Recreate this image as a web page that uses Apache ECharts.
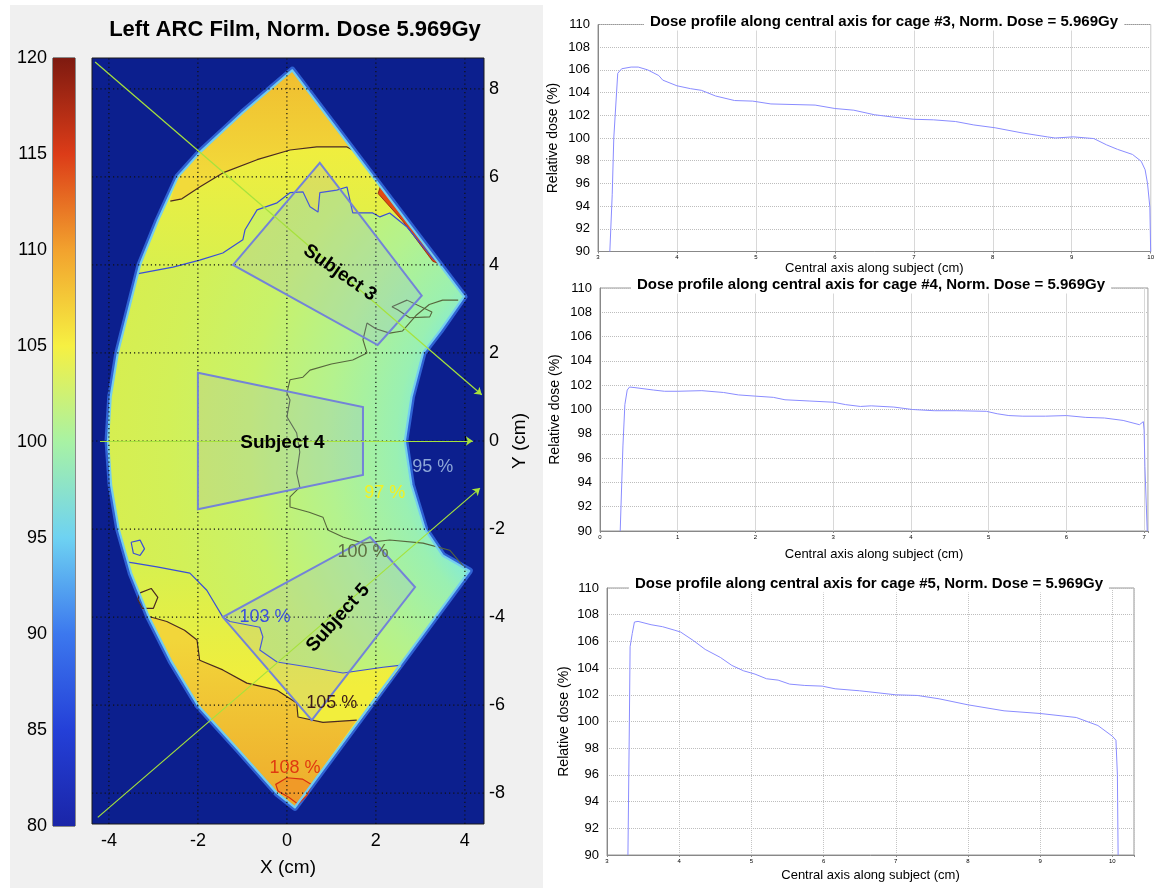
<!DOCTYPE html>
<html>
<head>
<meta charset="utf-8">
<script src="https://cdn.jsdelivr.net/npm/echarts@6/dist/echarts.min.js"></script>
<style>
  html, body { margin: 0; padding: 0; background: #fff; }
  #main { width: 1157px; height: 888px; }
</style>
</head>
<body>
<div id="main"></div>
<script>
// ---------- profile data ----------
const cage3Dist = [3.15, 3.18, 3.2, 3.25, 3.3, 3.42, 3.51, 3.63, 3.77, 3.82, 4.0, 4.17, 4.31, 4.49, 4.73, 4.96, 5.19, 5.47, 5.75, 6.0, 6.24, 6.5, 6.73, 7.0, 7.25, 7.53, 7.76, 8.03, 8.37, 8.69, 8.79, 9.02, 9.28, 9.44, 9.58, 9.77, 9.88, 9.93, 9.96, 9.99, 10.0]
const cage3Dose = [90, 95, 100, 105.7, 106.1, 106.25, 106.25, 106.0, 105.5, 105.1, 104.6, 104.35, 104.2, 103.7, 103.3, 103.25, 103.0, 102.95, 102.9, 102.6, 102.45, 102.05, 101.85, 101.65, 101.6, 101.45, 101.15, 100.9, 100.45, 100.1, 100.0, 100.1, 99.95, 99.4, 99.0, 98.55, 97.95, 97.2, 96.0, 93.9, 90]

const cage4Dist = [0.26, 0.295, 0.32, 0.35, 0.38, 0.45, 0.69, 0.83, 1.0, 1.31, 1.59, 1.78, 2.0, 2.23, 2.38, 2.69, 3.0, 3.16, 3.35, 3.49, 3.78, 4.02, 4.3, 4.59, 4.97, 5.11, 5.26, 5.44, 5.73, 6.0, 6.25, 6.49, 6.73, 6.94, 6.99, 7.0, 7.01, 7.04]
const cage4Dose = [90, 97, 100.4, 101.6, 101.85, 101.8, 101.6, 101.5, 101.5, 101.55, 101.4, 101.2, 101.1, 101.0, 100.8, 100.7, 100.6, 100.4, 100.25, 100.3, 100.2, 100.0, 99.9, 99.9, 99.85, 99.65, 99.5, 99.45, 99.45, 99.5, 99.35, 99.3, 99.1, 98.75, 99.0, 98.3, 95.3, 90]

const cage5Dist = [3.29, 3.31, 3.32, 3.35, 3.38, 3.43, 3.61, 3.77, 3.93, 4.02, 4.2, 4.36, 4.57, 4.73, 4.89, 5.05, 5.21, 5.37, 5.53, 5.74, 5.98, 6.16, 6.5, 7.0, 7.3, 7.6, 8.0, 8.5, 9.0, 9.5, 9.8, 10.0, 10.05, 10.07, 10.08]
const cage5Dose = [90, 100, 105.6, 106.6, 107.45, 107.5, 107.25, 107.1, 106.85, 106.7, 106.05, 105.4, 104.8, 104.2, 103.8, 103.55, 103.2, 103.1, 102.8, 102.7, 102.65, 102.45, 102.3, 102.0, 101.95, 101.7, 101.25, 100.8, 100.6, 100.3, 99.7, 98.9, 98.6, 96.0, 90]

const profileYTicks = [90, 92, 94, 96, 98, 100, 102, 104, 106, 108, 110]

// ---------- film map (cm) ----------
const mapXTicks = [-4, -2, 0, 2, 4]
const mapYTicks = [-8, -6, -4, -2, 0, 2, 4, 6, 8]
const colorbarValues = [80, 85, 90, 95, 100, 105, 110, 115, 120]
const colorbarColors = ['#1a25a8', '#2440d8', '#3c78ee', '#6ed2f2', '#a8f2a4', '#f6f042', '#f2a22e', '#dc3c18', '#7e1a10']

// outline of the exposed film: tip, right edge, inner arc, bottom tip, outer arc
const filmOutline = [[0.12, 8.42], [3.98, 3.28], [3.44, 2.5], [3.06, 2.0], [2.8, 1.0], [2.65, 0], [2.8, -1.0], [3.1, -2.0], [3.5, -2.6], [4.1, -2.95],
  [0.18, -8.32], [-0.22, -8.0], [-1.1, -7.0], [-2.0, -6.0], [-2.6, -5.0], [-3.1, -4.0], [-3.5, -3.0], [-3.78, -2.0], [-3.95, -1.0], [-4.02, 0],
  [-3.96, 1.0], [-3.8, 2.0], [-3.55, 3.0], [-3.3, 4.0], [-2.9, 5.0], [-2.45, 6.0], [-1.96, 6.55], [-1.0, 7.45]]

// isodose lines
const contour105Top = [[-2.62, 5.45], [-2.36, 5.5], [-1.96, 5.77], [-1.44, 6.09], [-0.67, 6.39], [0.07, 6.61], [0.67, 6.68], [1.35, 6.68], [1.5, 6.6]]
const contour105Bottom = [[-3.12, -3.98], [-2.7, -4.1], [-2.3, -4.3], [-2.02, -4.52], [-1.96, -4.98], [-1.44, -5.2], [-0.9, -5.5], [-0.22, -5.66], [0.22, -5.95], [0.25, -6.27], [0.81, -6.39], [1.57, -6.34]]
const contour105Loop = [[-3.3, -3.45], [-3.05, -3.35], [-2.9, -3.55], [-3.0, -3.8], [-3.25, -3.8], [-3.35, -3.6], [-3.3, -3.45]]
const contour103Top = [[3.32, 4.11], [2.7, 4.86], [2.31, 5.18], [2.09, 5.09], [1.93, 5.18], [1.48, 5.18], [1.35, 5.77], [1.12, 5.7], [0.74, 5.64], [0.7, 5.2], [0.52, 5.32], [0.36, 5.66], [0.07, 5.64], [-0.22, 5.41], [-0.67, 5.25], [-0.94, 4.8], [-0.99, 4.57], [-1.44, 4.27], [-1.96, 4.11], [-2.56, 3.95], [-3.34, 3.8]]
const contour103Bottom = [[-3.58, -2.75], [-3.46, -2.77], [-2.92, -2.86], [-2.18, -3.0], [-1.8, -3.39], [-1.44, -4.0], [-1.28, -4.1], [-0.61, -4.23], [-0.54, -4.45], [-0.61, -4.75], [-0.22, -5.02], [0.52, -5.14], [1.26, -5.27], [2.16, -5.14], [2.58, -5.09]]
const contour103Loop = [[-3.5, -2.3], [-3.3, -2.25], [-3.2, -2.45], [-3.3, -2.6], [-3.45, -2.55], [-3.5, -2.3]]
const contour100 = [[3.85, 3.2], [3.5, 3.2], [3.2, 3.1], [2.9, 2.85], [2.6, 2.5], [2.31, 2.45], [2.0, 2.55], [1.8, 2.68], [1.71, 2.3], [1.8, 2.0], [1.48, 1.84], [1.0, 1.75], [0.52, 1.61], [0.36, 1.45], [0.07, 1.39], [0.0, 1.09], [0.07, 0.93], [0.0, 0.55], [0.22, 0.18], [0.29, -0.25], [0.22, -0.73], [0.29, -1.05], [0.07, -1.27], [0.07, -1.5], [0.5, -1.62], [0.81, -1.73], [0.92, -2.02], [1.26, -2.18], [1.71, -2.32], [2.31, -2.25], [3.06, -2.32], [3.66, -2.48], [4.04, -2.93]]
const contour100Loop = [[2.36, 3.05], [2.7, 3.2], [3.26, 2.93], [3.21, 2.82], [2.76, 2.8], [2.49, 2.98], [2.36, 3.05]]
const contour108Loop = [[-0.25, -7.8], [0.0, -7.65], [0.35, -7.68], [0.55, -7.8], [0.45, -8.05], [0.25, -8.25], [0.05, -8.1], [-0.2, -7.95], [-0.25, -7.8]]
const hotEdge = [[2.1, 5.78], [3.44, 4.02], [3.28, 4.08], [2.6, 5.0], [2.05, 5.62]]

// subject outlines and beam axes
const subject3 = [[0.74, 6.32], [3.03, 3.3], [2.04, 2.18], [-1.21, 4.0]]
const subject4 = [[-2.0, 1.55], [1.71, 0.77], [1.71, -0.77], [-2.0, -1.55]]
const subject5 = [[1.87, -2.18], [2.88, -3.32], [0.56, -6.34], [-1.44, -4.0]]
const beamLines = [[[-4.31, 8.61], [4.38, 1.05]], [[-4.2, 0], [4.18, 0]], [[-4.25, -8.55], [4.34, -1.07]]]

const FONT = '"Liberation Sans", Arial, Helvetica, sans-serif'
const G = echarts.graphic

const mapLabels = [
  { text: 'Subject 3', at: [1.19, 3.82], rot: -35, color: '#000', size: 19, bold: true },
  { text: 'Subject 4', at: [-0.1, -0.05], rot: 0, color: '#000', size: 19, bold: true },
  { text: 'Subject 5', at: [1.15, -4.02], rot: 48, color: '#000', size: 19, bold: true },
  { text: '95 %', at: [3.28, -0.6], rot: 0, color: '#8ea8d8', size: 18 },
  { text: '97 %', at: [2.2, -1.18], rot: 0, color: '#f4f020', size: 18 },
  { text: '100 %', at: [1.71, -2.52], rot: 0, color: '#5f6f40', size: 18 },
  { text: '103 %', at: [-0.49, -4.0], rot: 0, color: '#3a4fe0', size: 18 },
  { text: '105 %', at: [1.01, -5.95], rot: 0, color: '#3a1a1a', size: 18 },
  { text: '108 %', at: [0.18, -7.43], rot: 0, color: '#e03a10', size: 18 }
]

const zip = (xs, ys) => xs.map((x, i) => [x, ys[i]])

// film regions built from the outline and the isodose lines
const region103Top = contour103Top.concat(filmOutline.slice(23), [filmOutline[0]])
const region103Bottom = contour103Bottom.concat(filmOutline.slice(10, 17))
const region105Top = contour105Top.concat([filmOutline[0]], filmOutline.slice(25).reverse())
const region105Bottom = contour105Bottom.concat(filmOutline.slice(10, 16))

function polygon(name, pts, z, styleFn) {
  return {
    name, type: 'custom', xAxisIndex: 0, yAxisIndex: 0, z, silent: true, clip: true,
    data: [[pts[0][0], pts[0][1]]],
    renderItem(params, api) {
      return { type: 'polygon', shape: { points: pts.map(p => api.coord(p)) }, style: styleFn(api) }
    }
  }
}
function vGrad(api, y1, y2, c1, c2) {
  const a = api.coord([0, y1])
  const b = api.coord([0, y2])
  return new G.LinearGradient(0, a[1], 0, b[1], [{ offset: 0, color: c1 }, { offset: 1, color: c2 }], true)
}
function contour(name, pts, color, width, z) {
  return {
    name, type: 'line', xAxisIndex: 0, yAxisIndex: 0, z, silent: true, data: pts,
    showSymbol: false, symbol: 'none', clip: true, lineStyle: { color, width }
  }
}
function profileSeries(gi, xs, ys) {
  return {
    type: 'line', xAxisIndex: gi, yAxisIndex: gi, data: zip(xs, ys), showSymbol: false,
    symbol: 'none', clip: true, silent: true, lineStyle: { color: '#8a8cff', width: 1 }
  }
}
function profileX(gi, min, max, gap, dotted) {
  return {
    gridIndex: gi, type: 'value', min, max, interval: 1,
    name: 'Central axis along subject (cm)', nameLocation: 'middle', nameGap: gap,
    nameTextStyle: { fontFamily: FONT, fontSize: 13, color: '#000' },
    axisLine: { show: true, lineStyle: { color: '#888' } },
    axisTick: { show: true, length: 2, lineStyle: { color: '#888' } },
    axisLabel: { fontSize: 6, margin: 3, color: '#000', fontFamily: FONT, formatter: v => Number.isInteger(v) ? String(v) : '' },
    splitLine: { show: true, lineStyle: { color: dotted ? '#c4c4c4' : '#d8d8d8', type: dotted ? 'dotted' : 'solid' } }
  }
}
function profileY(gi, gap) {
  return {
    gridIndex: gi, type: 'value', min: 90, max: 110, interval: 2,
    name: 'Relative dose (%)', nameLocation: 'middle', nameRotate: 90, nameGap: gap,
    nameTextStyle: { fontFamily: FONT, fontSize: 14, color: '#000' },
    axisLine: { show: true, lineStyle: { color: '#888' } },
    axisTick: { show: false },
    axisLabel: { fontSize: 13, margin: 8, color: '#000', fontFamily: FONT, customValues: profileYTicks },
    splitLine: { show: true, lineStyle: { color: '#bdbdbd', type: 'dotted' } }
  }
}
function titleText(x, y, text, size) {
  return {
    type: 'text', x, y, z: 100, silent: true,
    style: { text, fill: '#000', font: 'bold ' + size + 'px ' + FONT, align: 'center', verticalAlign: 'middle', textAlign: 'center', textVerticalAlign: 'middle', backgroundColor: '#fff', padding: [1, 6] }
  }
}

const chart = echarts.init(document.getElementById('main'))

const option = {
  animation: false,
  backgroundColor: '#fff',
  graphic: [
    { type: 'rect', z: -10, silent: true, shape: { x: 10, y: 5, width: 533, height: 883 }, style: { fill: '#f0f0f0' } },
    {
      type: 'text', x: 295, y: 30, z: 100, silent: true,
      style: { text: 'Left ARC Film, Norm. Dose 5.969Gy', fill: '#000', font: 'bold 22px ' + FONT, align: 'center', verticalAlign: 'middle', textAlign: 'center', textVerticalAlign: 'middle' }
    },
    titleText(884, 22, 'Dose profile along central axis for cage #3, Norm. Dose = 5.969Gy', 15),
    titleText(871, 285, 'Dose profile along central axis for cage #4, Norm. Dose = 5.969Gy', 15),
    titleText(869, 584, 'Dose profile along central axis for cage #5, Norm. Dose = 5.969Gy', 15)
  ],
  grid: [
    { left: 92, top: 58, width: 392, height: 766, show: true, backgroundColor: '#0c1f8e', borderColor: '#1a1a1a', borderWidth: 1 },
    { left: 53, top: 58, width: 22, height: 768, show: true, borderColor: '#222', borderWidth: 1 },
    { left: 598, top: 24.5, width: 557, height: 227, show: true, borderColor: '#999', borderWidth: 1 },
    { left: 600, top: 288, width: 548, height: 243, show: true, borderColor: '#999', borderWidth: 1 },
    { left: 607, top: 588, width: 527, height: 267, show: true, borderColor: '#999', borderWidth: 1 }
  ],
  xAxis: [
    {
      gridIndex: 0, type: 'value', min: -4.38, max: 4.43,
      name: 'X (cm)', nameLocation: 'middle', nameGap: 34,
      nameTextStyle: { fontFamily: FONT, fontSize: 19, color: '#000' },
      axisLine: { show: false },
      axisTick: { show: true, inside: true, length: 5, customValues: mapXTicks, lineStyle: { color: '#000' } },
      axisLabel: { customValues: mapXTicks, fontSize: 18, margin: 8, color: '#000', fontFamily: FONT },
      splitLine: { show: false }
    },
    { gridIndex: 1, type: 'value', min: 0, max: 1, show: false },
    profileX(2, 3, 10, 10, false),
    profileX(3, 0, 7.05, 17, false),
    profileX(4, 3, 10.3, 14, true)
  ],
  yAxis: [
    {
      gridIndex: 0, type: 'value', min: -8.7, max: 8.7, position: 'right',
      name: 'Y (cm)', nameLocation: 'middle', nameRotate: 90, nameGap: 26,
      nameTextStyle: { fontFamily: FONT, fontSize: 19, color: '#000' },
      axisLine: { show: false },
      axisTick: { show: true, inside: true, length: 5, customValues: mapYTicks, lineStyle: { color: '#000' } },
      axisLabel: { customValues: mapYTicks, fontSize: 18, margin: 5, color: '#000', fontFamily: FONT },
      splitLine: { show: false }
    },
    {
      gridIndex: 1, type: 'value', min: 80, max: 120, interval: 5, position: 'left',
      axisLine: { show: false }, axisTick: { show: false }, splitLine: { show: false },
      axisLabel: { fontSize: 18, margin: 6, color: '#000', fontFamily: FONT }
    },
    profileY(2, 38),
    profileY(3, 38),
    profileY(4, 36)
  ],
  series: [
    // colour bar
    {
      type: 'custom', xAxisIndex: 1, yAxisIndex: 1, silent: true, data: [[0, 80]],
      renderItem(params, api) {
        const a = api.coord([0, 120])
        const b = api.coord([1, 80])
        const stops = colorbarValues.map((v, i) => ({ offset: (120 - v) / 40, color: colorbarColors[i] }))
        return {
          type: 'rect', shape: { x: a[0], y: a[1], width: b[0] - a[0], height: b[1] - a[1] },
          style: { fill: new G.LinearGradient(0, a[1], 0, b[1], stops, true) }
        }
      }
    },
    // film: halo, base field, hot regions
    polygon('halo', filmOutline, 2, () => ({ fill: 'none', stroke: '#2f62d4', lineWidth: 7, lineJoin: 'round' })),
    polygon('film', filmOutline, 3, api => {
      const c = api.coord([7.5, 0])
      const r = api.size([12, 0])[0]
      return {
        fill: new G.RadialGradient(c[0], c[1], r, [
          { offset: 0.38, color: '#88ecd0' }, { offset: 0.42, color: '#9af0b2' },
          { offset: 0.55, color: '#b4f28e' }, { offset: 0.7, color: '#c8f26a' },
          { offset: 0.85, color: '#d2f058' }, { offset: 1, color: '#d8ee4e' }
        ], true)
      }
    }),
    polygon('r103top', region103Top, 4, api => ({ fill: vGrad(api, 3.9, 6.7, '#d8f04e', '#f0ee3e') })),
    polygon('r103bottom', region103Bottom, 4, api => ({ fill: vGrad(api, -2.9, -5.6, '#d8f04e', '#f2ee3c') })),
    polygon('r105top', region105Top, 5, api => ({ fill: vGrad(api, 6.0, 8.4, '#f2da3a', '#f0be30') })),
    polygon('r105bottom', region105Bottom, 5, api => ({ fill: vGrad(api, -4.5, -8.3, '#f2d63a', '#eeaa2c') })),
    polygon('hot', hotEdge, 6, () => ({ fill: '#e04a12', stroke: '#8a2010', lineWidth: 0.8 })),
    polygon('r108', contour108Loop, 6, () => ({ fill: '#f09a28', stroke: '#d83010', lineWidth: 1.2 })),
    contour('c105t', contour105Top, '#4a2a22', 1.2, 7),
    contour('c105b', contour105Bottom, '#4a2a22', 1.2, 7),
    contour('c105l', contour105Loop, '#4a2a22', 1.2, 7),
    contour('c103t', contour103Top, '#3a4ed8', 1.2, 7),
    contour('c103b', contour103Bottom, '#3a4ed8', 1.2, 7),
    contour('c103l', contour103Loop, '#3a4ed8', 1.2, 7),
    contour('c100', contour100, '#56663c', 1.1, 7),
    contour('c100l', contour100Loop, '#56663c', 1.1, 7),
    polygon('edge', filmOutline, 8, () => ({ fill: 'none', stroke: '#74cdf0', lineWidth: 2.2, lineJoin: 'round' })),
    // dotted grid on top of the film
    {
      type: 'custom', xAxisIndex: 0, yAxisIndex: 0, z: 9, silent: true, clip: true,
      data: mapXTicks.map(v => [v, 0]),
      renderItem(params, api) {
        const a = api.coord([api.value(0), -8.7])
        const b = api.coord([api.value(0), 8.7])
        return { type: 'line', shape: { x1: a[0], y1: a[1], x2: b[0], y2: b[1] }, style: { stroke: '#111', lineWidth: 1.2, lineDash: [1.2, 3] } }
      }
    },
    {
      type: 'custom', xAxisIndex: 0, yAxisIndex: 0, z: 9, silent: true, clip: true,
      data: mapYTicks.map(v => [0, v]),
      renderItem(params, api) {
        const a = api.coord([-4.38, api.value(1)])
        const b = api.coord([4.43, api.value(1)])
        return { type: 'line', shape: { x1: a[0], y1: a[1], x2: b[0], y2: b[1] }, style: { stroke: '#111', lineWidth: 1.2, lineDash: [1.2, 3] } }
      }
    },
    // subjects
    polygon('s3', subject3, 10, () => ({ fill: 'rgba(140,150,235,0.16)', stroke: '#7383d8', lineWidth: 2 })),
    polygon('s4', subject4, 10, () => ({ fill: 'rgba(140,150,235,0.16)', stroke: '#7383d8', lineWidth: 2 })),
    polygon('s5', subject5, 10, () => ({ fill: 'rgba(140,150,235,0.16)', stroke: '#7383d8', lineWidth: 2 })),
    // beam axes
    {
      type: 'lines', coordinateSystem: 'cartesian2d', xAxisIndex: 0, yAxisIndex: 0, z: 11, silent: true,
      symbol: ['none', 'arrow'], symbolSize: 7,
      data: beamLines.map(c => ({ coords: c })),
      lineStyle: { color: '#a6e23c', width: 1.2, opacity: 1 }
    },
    // map text
    {
      type: 'custom', xAxisIndex: 0, yAxisIndex: 0, z: 12, silent: true,
      data: mapLabels.map(d => [d.at[0], d.at[1]]),
      renderItem(params, api) {
        const d = mapLabels[params.dataIndex]
        const p = api.coord([api.value(0), api.value(1)])
        return {
          type: 'text', x: p[0], y: p[1], rotation: d.rot * Math.PI / 180,
          style: {
            text: d.text, fill: d.color, font: (d.bold ? 'bold ' : '') + d.size + 'px ' + FONT,
            align: 'center', verticalAlign: 'middle', textAlign: 'center', textVerticalAlign: 'middle'
          }
        }
      }
    },
    // dose profiles
    profileSeries(2, cage3Dist, cage3Dose),
    profileSeries(3, cage4Dist, cage4Dose),
    profileSeries(4, cage5Dist, cage5Dose)
  ]
}

chart.setOption(option)
</script>
</body>
</html>
